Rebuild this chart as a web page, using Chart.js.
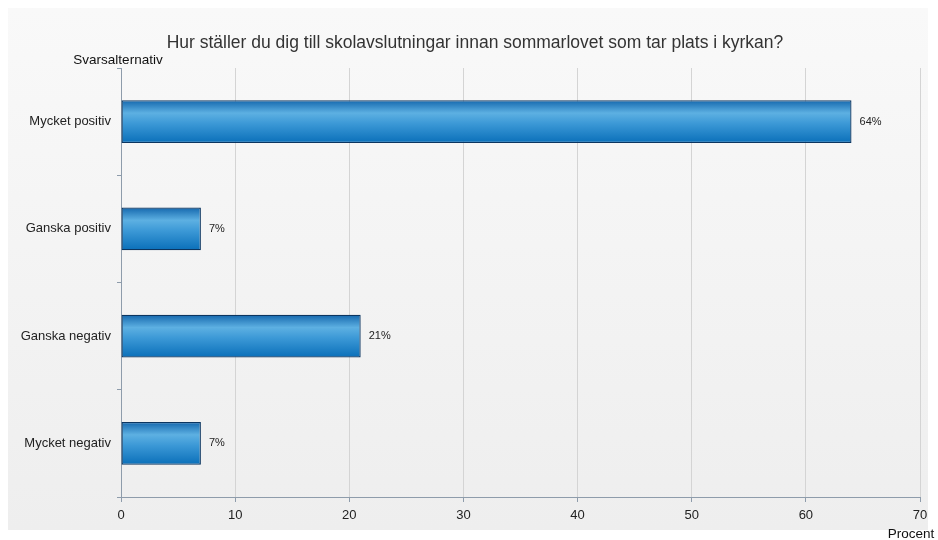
<!DOCTYPE html>
<html>
<head>
<meta charset="utf-8">
<script src="https://cdn.jsdelivr.net/npm/chart.js@4"></script>
<style>
  body { margin: 0; background: #fff; }
  canvas { display: block; }
</style>
</head>
<body>
<canvas id="myChart" width="938" height="540"></canvas>
<script>
var titleText = "Hur ställer du dig till skolavslutningar innan sommarlovet som tar plats i kyrkan?";
var categories = ["Mycket positiv", "Ganska positiv", "Ganska negativ", "Mycket negativ"];
var percent = [64, 7, 21, 7];
var xTicks = [0, 10, 20, 30, 40, 50, 60, 70];

var font = "'Liberation Sans', Arial, sans-serif";

// panel background with soft vertical gradient
var panelBg = {
    id: 'panelBg',
    beforeDraw: function (chart) {
        var ctx = chart.ctx;
        ctx.save();
        ctx.fillStyle = '#ffffff';
        ctx.fillRect(0, 0, chart.width, chart.height);
        var g = ctx.createLinearGradient(0, 8, 0, 530);
        g.addColorStop(0, '#f9f9f9');
        g.addColorStop(1, '#eeeeee');
        ctx.fillStyle = g;
        ctx.fillRect(8, 8, 920, 522);
        ctx.restore();
    }
};

// title, axis titles and value labels
var extras = {
    id: 'extras',
    afterDatasetsDraw: function (chart) {
        var ctx = chart.ctx;
        ctx.save();
        ctx.fillStyle = '#222';
        ctx.textBaseline = 'middle';
        ctx.font = '11px ' + font;
        ctx.textAlign = 'left';
        chart.getDatasetMeta(0).data.forEach(function (bar, i) {
            ctx.fillText(percent[i] + '%', bar.x + 8, bar.y);
        });

        ctx.fillStyle = '#333';
        ctx.font = '17.5px ' + font;
        ctx.textAlign = 'center';
        ctx.fillText(titleText, 475, 43);

        ctx.fillStyle = '#111';
        ctx.font = '13.5px ' + font;
        ctx.fillText('Svarsalternativ', 118, 60);
        ctx.fillText('Procent', 911, 534);
        ctx.restore();
    }
};

function barFill(context) {
    var chart = context.chart;
    if (!chart.chartArea) return '#2f8ccf';
    var y = chart.scales.y;
    var c = y.getPixelForValue(context.dataIndex);
    var h = (y.height / categories.length) * 0.4;
    var g = chart.ctx.createLinearGradient(0, c - h / 2, 0, c + h / 2);
    g.addColorStop(0, '#1467ad');
    g.addColorStop(0.3, '#5db0e2');
    g.addColorStop(0.55, '#3b98d6');
    g.addColorStop(1, '#0a6fb9');
    return g;
}

var ctx = document.getElementById('myChart');
var myChart = new Chart(ctx, {
    type: 'bar',
    data: {
        labels: categories,
        datasets: [{
            label: 'Procent',
            data: percent,
            backgroundColor: barFill,
            borderColor: '#0b3560',
            borderWidth: 1.3,
            borderSkipped: false,
            barPercentage: 0.4,
            categoryPercentage: 1
        }]
    },
    options: {
        indexAxis: 'y',
        responsive: false,
        animation: false,
        layout: { padding: { left: 8, right: 18, top: 68, bottom: 0 } },
        plugins: {
            legend: { display: false },
            title: { display: false },
            tooltip: { enabled: false }
        },
        scales: {
            x: {
                min: 0,
                max: 70,
                afterFit: function (s) { s.height = 43; },
                afterBuildTicks: function (s) {
                    s.ticks = xTicks.map(function (v) { return { value: v }; });
                },
                border: { color: '#8e9cab', width: 1 },
                grid: { color: '#d4d4d4', tickColor: '#8e9cab', tickLength: 5 },
                ticks: { color: '#222', font: { size: 13, family: font }, padding: 6 }
            },
            y: {
                afterFit: function (s) { s.width = 113; },
                border: { color: '#8e9cab', width: 1 },
                grid: { drawOnChartArea: false, offset: true, tickColor: '#8e9cab', tickLength: 4 },
                ticks: { color: '#222', font: { size: 13, family: font }, padding: 6 }
            }
        }
    },
    plugins: [panelBg, extras]
});
</script>
</body>
</html>
